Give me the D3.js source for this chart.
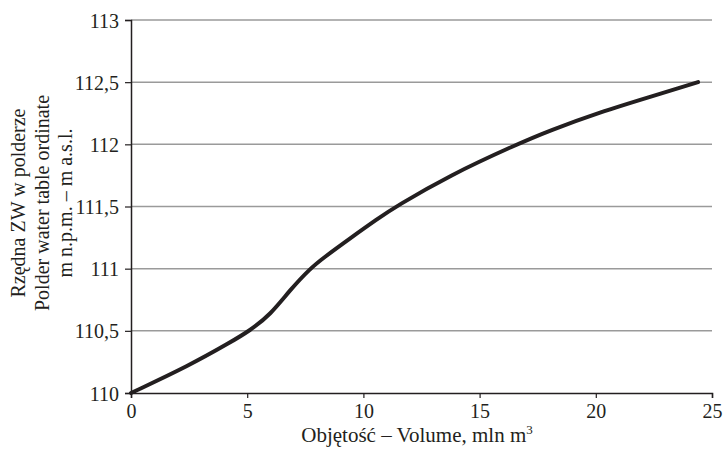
<!DOCTYPE html>
<html>
<head>
<meta charset="utf-8">
<script src="https://cdn.jsdelivr.net/npm/d3@7"></script>
<style>
  body { margin: 0; background: #fff; }
  text { font-family: "Liberation Serif", "Times New Roman", serif; fill: #231f20; }
</style>
</head>
<body>
<div id="chart"></div>
<script>
// volume (mln m3) vs polder water table ordinate (m a.s.l.)
const volume = [0, 2.5, 4.3, 5.1, 6, 6.85, 7.7, 8.3, 9.4, 10.6, 11.4, 13.7, 16.6, 18, 20.2, 22.3, 24.4];
const ordinate = [110, 110.22, 110.41, 110.5, 110.63, 110.83, 111, 111.09, 111.24, 111.4, 111.5, 111.75, 112, 112.11, 112.26, 112.38, 112.5];
const xTicks = [0, 5, 10, 15, 20, 25];
const yTicks = [110, 110.5, 111, 111.5, 112, 112.5, 113];
const yTitle = ["Rzędna ZW w polderze", "Polder water table ordinate", "m n.p.m. – m a.s.l."];

const width = 724, height = 449;
const margin = { top: 20, right: 12, bottom: 56, left: 131 };

const svg = d3.select("#chart").append("svg")
    .attr("width", width)
    .attr("height", height);

const x = d3.scaleLinear().domain([0, 25]).range([margin.left, width - margin.right]);
const y = d3.scaleLinear().domain([110, 113]).range([height - margin.bottom, margin.top]);

// horizontal gridlines
svg.append("g")
    .selectAll("line")
    .data(yTicks.slice(1))
    .enter()
    .append("line")
    .attr("x1", x(0))
    .attr("x2", x(25))
    .attr("y1", d => y(d))
    .attr("y2", d => y(d))
    .attr("stroke", "#9a9a9a")
    .attr("stroke-width", 1.5);

const fmt = d => String(d).replace(".", ",");

// y axis
const yAxis = svg.append("g")
    .attr("transform", `translate(${x(0)},0)`)
    .call(d3.axisLeft(y).tickValues(yTicks).tickFormat(fmt).tickSize(6).tickPadding(6));
yAxis.select(".domain").attr("stroke", "#231f20").attr("stroke-width", 1.5);
yAxis.selectAll(".tick line").attr("stroke", "#231f20").attr("stroke-width", 1.2);
yAxis.selectAll("text").style("font-size", "20px").attr("dy", "0.35em").attr("fill", "#231f20");

// x axis
const xAxis = svg.append("g")
    .attr("transform", `translate(0,${y(110)})`)
    .call(d3.axisBottom(x).tickValues(xTicks).tickSize(5).tickPadding(6));
xAxis.select(".domain").attr("stroke", "#231f20").attr("stroke-width", 1.5);
xAxis.selectAll(".tick line").attr("stroke", "#231f20").attr("stroke-width", 1.2);
xAxis.selectAll("text").style("font-size", "20px").attr("fill", "#231f20");

// curve
const line = d3.line()
    .x((d, i) => x(volume[i]))
    .y(d => y(d))
    .curve(d3.curveBasis);

svg.append("path")
    .datum(ordinate)
    .attr("fill", "none")
    .attr("stroke", "#231f20")
    .attr("stroke-width", 4)
    .attr("stroke-linecap", "round")
    .attr("d", line);

// x title
const xt = svg.append("text")
    .attr("x", 417)
    .attr("y", 442)
    .attr("text-anchor", "middle")
    .style("font-size", "21px")
    .text("Objętość – Volume, mln m");
xt.append("tspan")
    .attr("dy", -8)
    .style("font-size", "13px")
    .text("3");

// y title, three rotated lines
svg.append("g")
    .attr("transform", "translate(25,203) rotate(-90)")
    .selectAll("text")
    .data(yTitle)
    .enter()
    .append("text")
    .attr("x", 0)
    .attr("y", (d, i) => i * 23.5)
    .attr("text-anchor", "middle")
    .style("font-size", "20px")
    .text(d => d);
</script>
</body>
</html>
